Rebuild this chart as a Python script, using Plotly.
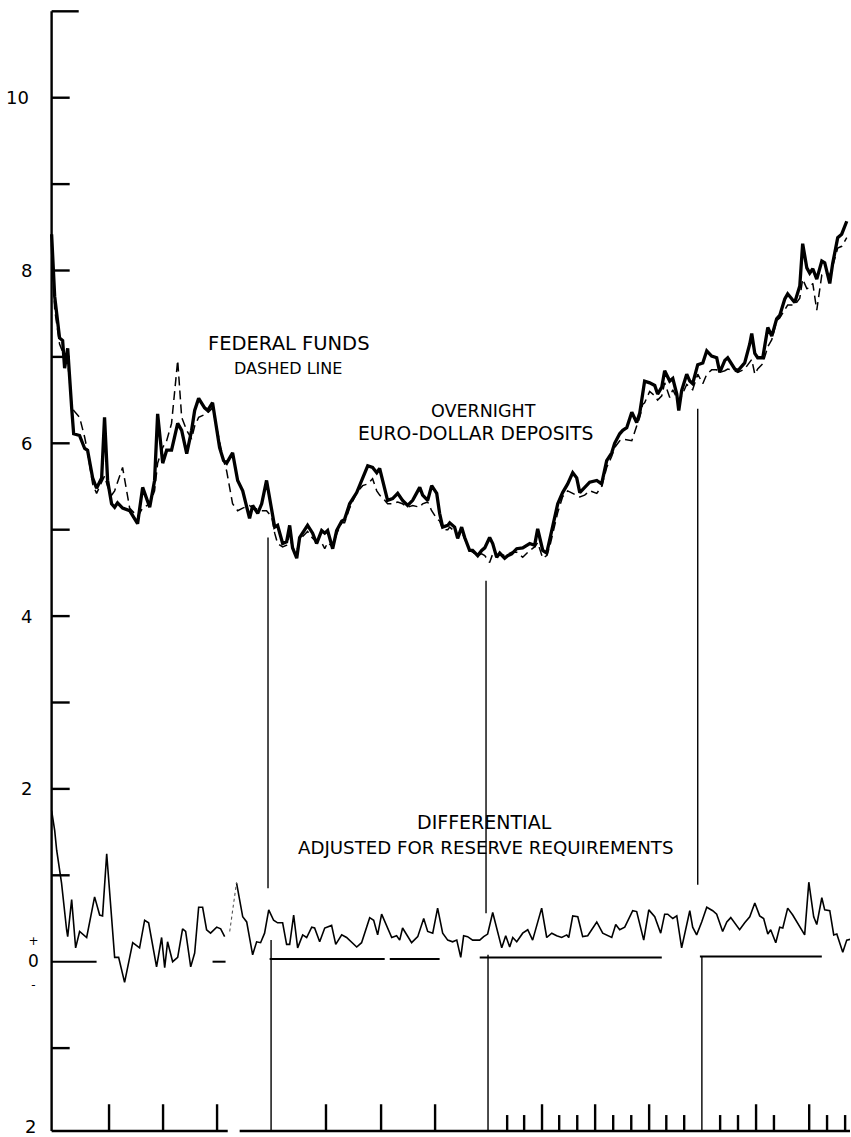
import plotly.graph_objects as go

# ---------------- data (x in months from start of chart, y in percent) ----------------
ed_x = [0.00,0.17,0.44,0.61,0.72,0.89,1.11,1.22,1.55,1.83,1.99,2.27,2.49,2.77,2.93,3.10,3.32,3.49,3.65,3.93,
        4.32,4.76,5.04,5.43,5.70,5.87,6.15,6.37,6.64,6.98,7.20,7.48,7.75,7.92,8.14,8.47,8.64,8.91,9.30,9.52,
        9.69,10.02,10.30,10.58,10.96,11.13,11.41,11.63,11.90,12.18,12.35,12.51,12.79,13.01,13.18,13.34,13.57,13.73,13.90,14.17,
        14.45,14.67,14.95,15.12,15.28,15.56,15.78,16.06,16.22,16.50,16.89,17.22,17.50,17.77,18.00,18.16,18.44,18.60,18.88,19.16,
        19.43,19.71,19.99,20.38,20.54,20.82,21.04,21.32,21.48,21.65,21.93,22.04,22.31,22.48,22.70,22.87,23.14,23.31,23.59,23.81,
        23.98,24.25,24.42,24.64,24.81,25.08,25.25,25.47,25.75,26.08,26.47,26.74,26.91,27.19,27.41,27.57,27.74,28.02,28.29,28.57,
        28.85,29.07,29.24,29.51,29.79,30.18,30.45,30.73,31.01,31.17,31.45,31.62,31.84,32.12,32.39,32.56,32.72,32.83,33.11,33.39,
        33.55,33.78,33.94,34.22,34.39,34.61,34.72,34.88,35.16,35.33,35.49,35.77,36.05,36.27,36.54,36.82,36.99,37.27,37.43,37.82,
        37.99,38.37,38.65,38.76,38.93,39.09,39.37,39.65,39.87,40.14,40.31,40.59,40.75,41.14,41.42,41.58,41.81,41.97,42.14,42.36,
        42.64,42.80,43.08,43.24,43.52,43.74,44.02]

# Overnight Euro-dollar deposits (solid line)
eurodollar = [8.42,7.70,7.22,7.19,6.87,7.10,6.41,6.11,6.09,5.94,5.92,5.60,5.48,5.60,6.30,5.57,5.30,5.26,5.31,5.25,
              5.22,5.07,5.49,5.26,5.57,6.34,5.77,5.92,5.92,6.23,6.15,5.88,6.15,6.38,6.52,6.41,6.38,6.47,5.95,5.80,
              5.77,5.89,5.57,5.45,5.13,5.28,5.19,5.30,5.57,5.22,5.03,5.05,4.84,4.86,5.05,4.79,4.67,4.91,4.97,5.05,
              4.96,4.84,4.99,4.96,4.99,4.78,4.99,5.10,5.12,5.30,5.43,5.60,5.74,5.72,5.66,5.71,5.49,5.34,5.36,5.42,
              5.34,5.28,5.34,5.49,5.40,5.34,5.51,5.42,5.19,5.03,5.05,5.08,5.03,4.90,5.03,4.91,4.76,4.76,4.70,4.76,
              4.79,4.91,4.84,4.68,4.73,4.67,4.70,4.72,4.78,4.79,4.84,4.82,5.01,4.76,4.73,4.88,5.03,5.30,5.43,5.53,
              5.66,5.60,5.43,5.49,5.55,5.57,5.53,5.80,5.89,6.00,6.11,6.15,6.18,6.36,6.24,6.35,6.55,6.72,6.70,6.67,
              6.57,6.65,6.84,6.72,6.75,6.57,6.38,6.61,6.80,6.72,6.69,6.91,6.93,7.07,7.01,6.99,6.82,6.96,6.99,6.86,
              6.84,6.93,7.15,7.27,7.04,6.99,6.99,7.34,7.24,7.44,7.48,7.67,7.73,7.63,7.82,8.31,8.03,7.97,8.02,7.90,
              8.11,8.09,7.85,8.08,8.38,8.42,8.57]

# Federal funds (dashed line)
fedfunds = [8.30,7.55,7.15,7.05,7.00,6.95,6.45,6.38,6.30,6.07,5.90,5.53,5.42,5.55,5.62,5.50,5.40,5.45,5.55,5.72,
            5.25,5.15,5.25,5.30,5.45,5.77,5.95,6.03,6.23,6.96,6.30,6.15,6.05,6.20,6.30,6.33,6.35,6.41,6.00,5.80,
            5.68,5.30,5.22,5.25,5.28,5.25,5.24,5.22,5.22,5.15,4.96,4.84,4.80,4.82,4.95,4.78,4.75,4.88,4.92,4.98,
            4.90,4.86,4.85,4.78,4.85,4.80,4.95,5.08,5.08,5.25,5.43,5.51,5.53,5.59,5.45,5.40,5.34,5.30,5.30,5.32,
            5.30,5.26,5.28,5.26,5.30,5.32,5.22,5.13,5.10,5.00,5.00,5.03,4.98,4.92,4.98,4.90,4.76,4.74,4.70,4.72,
            4.70,4.62,4.72,4.70,4.72,4.70,4.72,4.74,4.74,4.68,4.76,4.80,4.85,4.67,4.70,4.80,4.95,5.20,5.38,5.45,
            5.42,5.40,5.38,5.40,5.45,5.42,5.50,5.72,5.85,5.95,6.03,6.05,6.04,6.03,6.20,6.30,6.45,6.47,6.60,6.55,
            6.50,6.55,6.70,6.53,6.62,6.52,6.48,6.55,6.68,6.65,6.62,6.80,6.69,6.80,6.85,6.85,6.82,6.84,6.86,6.84,
            6.82,6.86,6.93,6.97,6.80,6.86,6.92,7.12,7.20,7.42,7.45,7.54,7.60,7.60,7.68,7.90,7.79,7.80,7.85,7.54,
            7.95,7.98,7.95,8.05,8.26,8.28,8.38]

# Differential adjusted for reserve requirements (thin line); None = break in the drawn line
diff_x = [0.00,0.17,0.28,0.55,0.83,0.89,1.11,1.33,1.55,1.94,2.38,2.66,2.82,3.05,3.49,3.71,4.04,4.49,4.87,5.15,
          5.37,5.81,6.09,6.26,6.42,6.70,6.98,7.25,7.42,7.70,7.92,8.14,8.36,8.58,8.80,9.14,9.36,9.58,None,10.24,
          10.58,10.80,11.13,11.35,11.57,11.79,12.02,12.29,12.51,12.79,13.01,13.18,13.40,13.62,13.90,14.12,14.40,14.56,14.84,15.12,
          15.50,15.73,16.06,16.33,16.61,16.89,17.16,17.61,17.83,18.05,18.27,18.60,18.83,19.10,19.27,19.43,19.93,20.27,20.60,20.82,
          21.10,21.37,21.65,21.93,22.20,22.43,22.65,22.81,23.03,23.31,23.70,23.92,24.14,24.42,24.64,24.92,25.14,25.36,25.53,25.75,
          26.08,26.36,26.63,27.13,27.41,27.69,27.96,28.24,28.52,28.63,28.85,29.13,29.40,29.68,30.18,30.51,31.01,31.23,31.45,31.73,
          32.17,32.39,32.78,33.06,33.39,33.72,33.94,34.11,34.39,34.61,34.88,35.33,35.49,35.71,35.99,36.27,36.60,36.82,37.15,37.38,
          37.60,37.82,38.09,38.37,38.65,38.93,39.20,39.42,39.65,39.81,40.09,40.31,40.48,40.75,41.03,41.69,41.92,42.19,42.36,42.64,
          42.80,43.08,43.30,43.47,43.80,44.02,44.24]
diff_y = [1.75,1.52,1.29,0.91,0.37,0.29,0.72,0.16,0.35,0.28,0.75,0.54,0.53,1.25,0.05,0.05,-0.24,0.22,0.16,0.48,
          0.45,-0.06,0.28,-0.07,0.23,0.00,0.05,0.38,0.35,-0.06,0.10,0.63,0.63,0.37,0.33,0.40,0.38,0.29,None,0.91,
          0.52,0.46,0.08,0.23,0.22,0.33,0.60,0.48,0.45,0.45,0.20,0.20,0.54,0.16,0.31,0.28,0.40,0.39,0.23,0.39,
          0.42,0.20,0.31,0.28,0.23,0.17,0.22,0.51,0.48,0.31,0.55,0.40,0.28,0.30,0.25,0.39,0.22,0.29,0.50,0.35,
          0.33,0.62,0.33,0.25,0.23,0.25,0.05,0.30,0.29,0.25,0.25,0.29,0.32,0.57,0.40,0.16,0.30,0.17,0.28,0.23,
          0.33,0.37,0.25,0.62,0.28,0.33,0.30,0.28,0.31,0.28,0.53,0.52,0.29,0.30,0.46,0.33,0.28,0.43,0.37,0.40,
          0.59,0.58,0.25,0.60,0.52,0.33,0.55,0.55,0.50,0.53,0.16,0.59,0.40,0.31,0.46,0.63,0.59,0.55,0.35,0.46,
          0.51,0.45,0.37,0.45,0.52,0.68,0.53,0.50,0.32,0.37,0.22,0.40,0.39,0.62,0.54,0.31,0.92,0.52,0.43,0.74,
          0.60,0.59,0.31,0.32,0.11,0.25,0.26]
# faint dotted piece of the differential
diff_dot_x = [9.86, 10.24]
diff_dot_y = [0.35, 0.92]

# zero reference for the differential, drawn in pieces
zero_start = [0.00, 8.91, 12.07, 18.72, 23.70, 35.89]
zero_end = [2.49, 9.63, 18.44, 21.48, 33.78, 42.64]
zero_level = [0.00, 0.00, 0.03, 0.03, 0.05, 0.06]

# year divider lines: upper piece and lower piece
year_upper_x = [11.98, 24.05, 35.77]
year_lower_x = [12.15, 24.16, 36.00]
year_top = [4.91, 4.41, 6.40]
year_break_hi = [0.85, 0.56, 0.89]
year_break_lo = [0.25, 0.08, 0.06]

# bottom axis ticks (month positions)
quarter_ticks = [3.18, 6.17, 9.16, 15.19, 18.24, 21.23, 27.15, 30.09, 33.08, 39.00, 41.94]
month_ticks = [25.22, 26.16, 28.10, 29.10, 31.09, 32.09, 34.03, 35.02, 37.01, 38.00, 39.99, 42.93, 43.93]
bottom_axis_start = [0.00, 10.41]
bottom_axis_end = [9.75, 44.20]

# left axis
y_ticks = [-1, 1, 2, 3, 4, 5, 6, 7, 8, 9, 10]
y_labels_val = [10, 8, 6, 4, 2]
y_labels_txt = ["10", "8", "6", "4", "2"]
axis_bottom = -1.96
axis_top = 11.0

# ---------------- figure ----------------
assert len(ed_x) == len(eurodollar) == len(fedfunds)
assert len(diff_x) == len(diff_y)

ML, MR = 48, 1
W, H = 851, 1137
PLOT_W = W - ML - MR

def paper_x(px):
    return (px - ML) / PLOT_W

fig = go.Figure()

# decoration segments (axes, ticks, dividers, zero rule)
sx, sy = [], []
def seg(x0, y0, x1, y1):
    sx.extend([x0, x1, None]); sy.extend([y0, y1, None])

seg(0, axis_bottom, 0, axis_top)
seg(0, axis_top, 1.5, axis_top)
for t in y_ticks:
    seg(0, t, 1.0, t)
for a, b in zip(bottom_axis_start, bottom_axis_end):
    seg(a, axis_bottom, b, axis_bottom)
for q in quarter_ticks:
    seg(q, axis_bottom, q, axis_bottom + 0.31)
for m in month_ticks:
    seg(m, axis_bottom, m, axis_bottom + 0.185)

fig.add_trace(go.Scatter(x=sx, y=sy, mode="lines", line=dict(color="black", width=2.4),
                         hoverinfo="skip", connectgaps=False))

zx, zy = [], []
for a, b, lv in zip(zero_start, zero_end, zero_level):
    zx.extend([a, b, None]); zy.extend([lv, lv, None])
fig.add_trace(go.Scatter(x=zx, y=zy, mode="lines", line=dict(color="black", width=2.0),
                         hoverinfo="skip", connectgaps=False))

vx, vy = [], []
for xu, xl, top, hi, lo in zip(year_upper_x, year_lower_x, year_top, year_break_hi, year_break_lo):
    vx.extend([xu, xu, None, xl, xl, None]); vy.extend([top, hi, None, lo, axis_bottom, None])
fig.add_trace(go.Scatter(x=vx, y=vy, mode="lines", line=dict(color="black", width=1.4),
                         hoverinfo="skip", connectgaps=False))

# series
fig.add_trace(go.Scatter(x=ed_x, y=fedfunds, mode="lines", name="Federal funds",
                         line=dict(color="black", width=1.5, dash="9px,5px")))
fig.add_trace(go.Scatter(x=ed_x, y=eurodollar, mode="lines", name="Overnight Euro-dollar deposits",
                         line=dict(color="black", width=3.3)))
fig.add_trace(go.Scatter(x=diff_x, y=diff_y, mode="lines", name="Differential",
                         line=dict(color="black", width=1.6), connectgaps=False))
fig.add_trace(go.Scatter(x=diff_dot_x, y=diff_dot_y, mode="lines",
                         line=dict(color="#555555", width=1.1, dash="dot"), hoverinfo="skip"))

FONT = "DejaVu Sans"
ann = []
for v, t in zip(y_labels_val, y_labels_txt):
    ann.append(dict(x=paper_x(34 if len(t) == 1 else 31), y=v, text=t, xref="paper", yref="y",
                    xanchor="right", yanchor="middle", showarrow=False,
                    font=dict(family=FONT, size=18, color="black")))
# stacked "+ 0 -" label at the differential's zero line (single text block)
ann.append(dict(x=paper_x(33), y=-0.01,
                text="<span style='font-size:12px'>+</span><br>0<br><span style='font-size:12px'>-</span>",
                xref="paper", yref="y", showarrow=False,
                xanchor="center", yanchor="middle", font=dict(family=FONT, size=17, color="black")))
ann.append(dict(x=paper_x(38), y=-1.91, text="2", xref="paper", yref="y", xanchor="right",
                yanchor="middle", showarrow=False, font=dict(family=FONT, size=18, color="black")))

labels = [
    ("FEDERAL FUNDS", 13.12, 7.16, 19.5),
    ("DASHED LINE", 13.09, 6.87, 16),
    ("OVERNIGHT", 23.91, 6.37, 17.5),
    ("EURO-DOLLAR DEPOSITS", 23.45, 6.11, 18.7),
    ("DIFFERENTIAL", 23.94, 1.62, 19),
    ("ADJUSTED FOR RESERVE REQUIREMENTS", 24.02, 1.32, 18.2),
]
for t, x, y, s in labels:
    ann.append(dict(x=x, y=y, text=t, xref="x", yref="y", showarrow=False,
                    xanchor="center", yanchor="middle",
                    font=dict(family=FONT, size=s, color="black")))

fig.update_layout(
    width=W, height=H,
    margin=dict(l=ML, r=MR, t=5, b=0),
    paper_bgcolor="white", plot_bgcolor="white",
    showlegend=False,
    xaxis=dict(range=[-0.2, 44.2], visible=False),
    yaxis=dict(range=[-2.029, 11.073], visible=False),
    annotations=ann,
)

fig.write_html("out.html", config={"displayModeBar": False},
               post_script="document.body.style.margin='0';document.body.style.padding='0';document.body.style.overflow='hidden';")
